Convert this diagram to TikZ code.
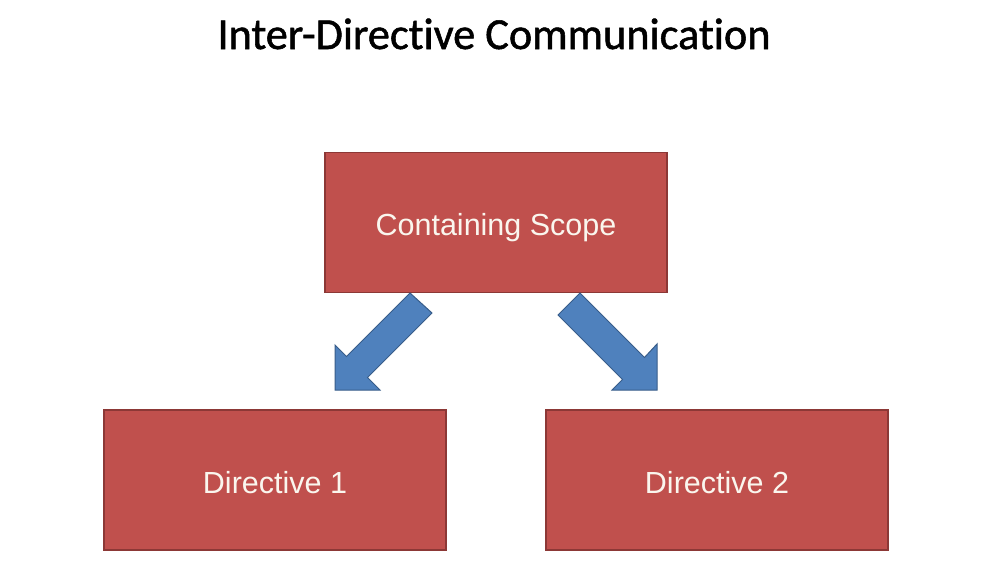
\documentclass[tikz,border=0pt]{standalone}
\usepackage{fontspec}
\setmainfont{Liberation Sans}
\newfontfamily\titlefont[Ligatures=NoCommon,FakeBold=1.2]{Carlito}
\definecolor{boxred}{HTML}{C0504D}
\definecolor{boxedge}{HTML}{8C3836}
\definecolor{arrblue}{HTML}{4F81BD}
\definecolor{arredge}{HTML}{385D8A}
\definecolor{txtwhite}{HTML}{FAF6EE}
\begin{document}
\begin{tikzpicture}[x=1pt,y=-1pt,
  redbox/.style={draw=boxedge,line width=1.2pt,fill=boxred,minimum width=342pt,minimum height=140pt,inner sep=0pt,text height=26pt,text depth=0pt,text=txtwhite,font=\fontsize{30.5}{34}\selectfont},
  blockarrow/.style={draw=arredge,line width=1pt,fill=arrblue,line join=miter}]
\useasboundingbox (0,0) rectangle (982,587);
\fill[white] (0,0) rectangle (982,587);
\node[anchor=base,font=\titlefont\fontsize{44.3}{50}\selectfont] (title) at (494,49) {Inter-Directive Communication};
\node[redbox] (scope) at (496,222.5) {Containing Scope};
\node[redbox] (d1) at (275,480) {Directive 1};
\node[redbox] (d2) at (717,480) {Directive 2};
% left block arrow
\draw[blockarrow] (410,293) -- (432,313) -- (367.5,377.5) -- (380,390) -- (335,390) -- (335,345) -- (346.5,356.5) -- cycle;
% right block arrow
\draw[blockarrow] (580,293) -- (558,315) -- (622.5,379.5) -- (612,390) -- (657,390) -- (657,344) -- (644.5,357.5) -- cycle;
\end{tikzpicture}
\end{document}
